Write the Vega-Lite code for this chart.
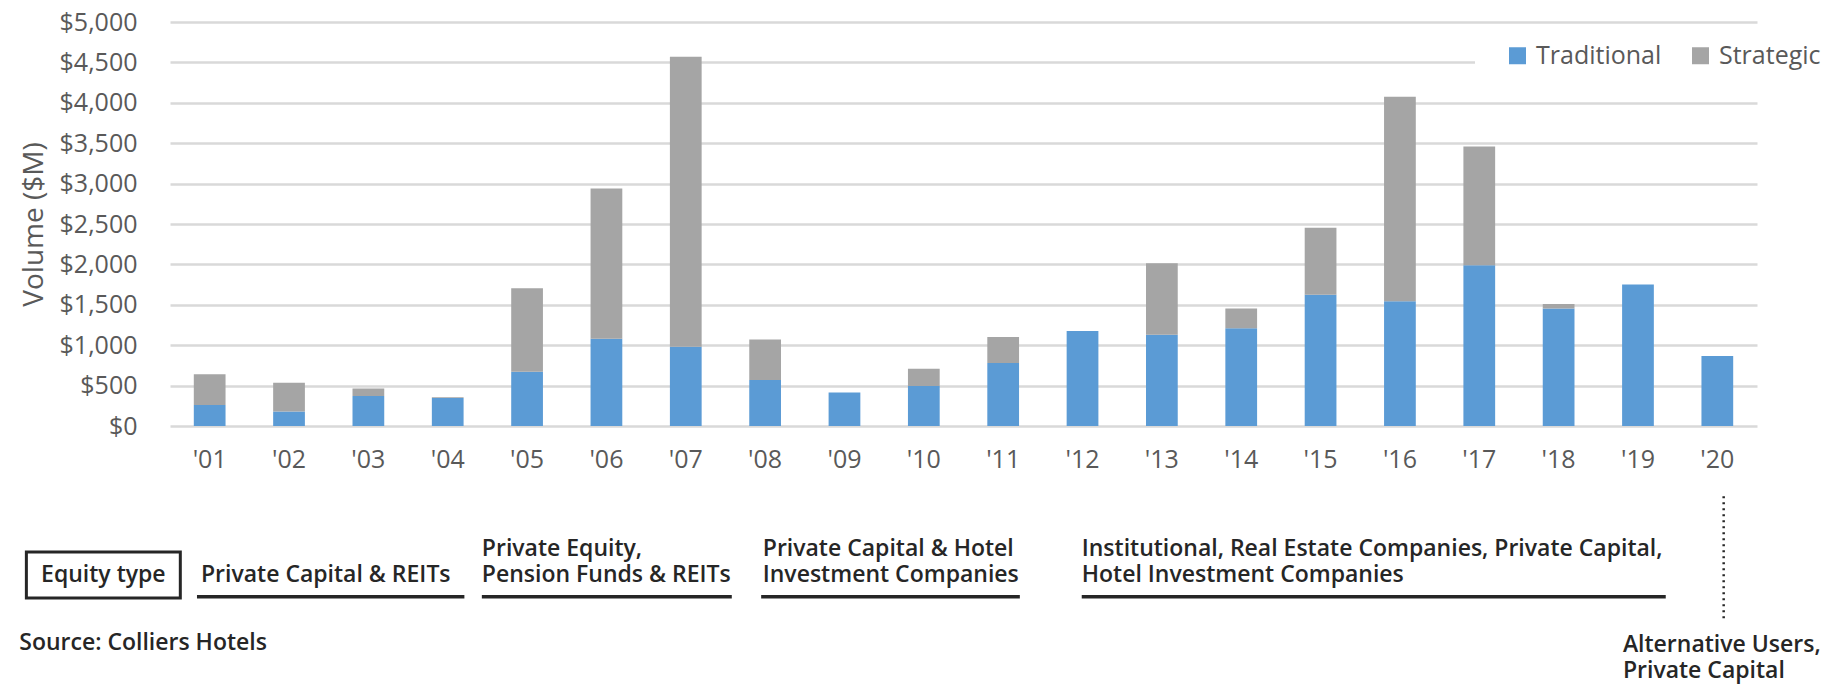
{
  "$schema": "https://vega.github.io/schema/vega-lite/v6.json",
  "width": 1587,
  "height": 404,
  "autosize": {"type": "none"},
  "padding": {"left": 170, "top": 22, "right": 75, "bottom": 262},
  "background": "white",
  "config": {
    "font": "Open Sans",
    "view": {"stroke": null}
  },
  "datasets": {
    "bars": [
      {"year": "'01", "type": "Traditional", "ord": 1, "value": 260},
      {"year": "'01", "type": "Strategic", "ord": 2, "value": 380},
      {"year": "'02", "type": "Traditional", "ord": 1, "value": 180},
      {"year": "'02", "type": "Strategic", "ord": 2, "value": 355},
      {"year": "'03", "type": "Traditional", "ord": 1, "value": 370},
      {"year": "'03", "type": "Strategic", "ord": 2, "value": 95},
      {"year": "'04", "type": "Traditional", "ord": 1, "value": 345},
      {"year": "'04", "type": "Strategic", "ord": 2, "value": 10},
      {"year": "'05", "type": "Traditional", "ord": 1, "value": 670},
      {"year": "'05", "type": "Strategic", "ord": 2, "value": 1035},
      {"year": "'06", "type": "Traditional", "ord": 1, "value": 1080},
      {"year": "'06", "type": "Strategic", "ord": 2, "value": 1860},
      {"year": "'07", "type": "Traditional", "ord": 1, "value": 980},
      {"year": "'07", "type": "Strategic", "ord": 2, "value": 3590},
      {"year": "'08", "type": "Traditional", "ord": 1, "value": 570},
      {"year": "'08", "type": "Strategic", "ord": 2, "value": 500},
      {"year": "'09", "type": "Traditional", "ord": 1, "value": 415},
      {"year": "'10", "type": "Traditional", "ord": 1, "value": 495},
      {"year": "'10", "type": "Strategic", "ord": 2, "value": 215},
      {"year": "'11", "type": "Traditional", "ord": 1, "value": 780},
      {"year": "'11", "type": "Strategic", "ord": 2, "value": 320},
      {"year": "'12", "type": "Traditional", "ord": 1, "value": 1175},
      {"year": "'13", "type": "Traditional", "ord": 1, "value": 1130},
      {"year": "'13", "type": "Strategic", "ord": 2, "value": 885},
      {"year": "'14", "type": "Traditional", "ord": 1, "value": 1210},
      {"year": "'14", "type": "Strategic", "ord": 2, "value": 245},
      {"year": "'15", "type": "Traditional", "ord": 1, "value": 1625},
      {"year": "'15", "type": "Strategic", "ord": 2, "value": 830},
      {"year": "'16", "type": "Traditional", "ord": 1, "value": 1545},
      {"year": "'16", "type": "Strategic", "ord": 2, "value": 2530},
      {"year": "'17", "type": "Traditional", "ord": 1, "value": 1990},
      {"year": "'17", "type": "Strategic", "ord": 2, "value": 1470},
      {"year": "'18", "type": "Traditional", "ord": 1, "value": 1455},
      {"year": "'18", "type": "Strategic", "ord": 2, "value": 55},
      {"year": "'19", "type": "Traditional", "ord": 1, "value": 1750},
      {"year": "'20", "type": "Traditional", "ord": 1, "value": 865}
    ],
    "labels": [
      {"t": "Private Capital & REITs", "u": 0.89, "v": -1844},
      {"t": "Source: Colliers Hotels", "u": -1.40, "v": -2682}
    ],
    "multilabels": [
      {"t": "Private Equity,\nPension Funds & REITs", "u": 4.43, "v": -1522},
      {"t": "Private Capital & Hotel\nInvestment Companies", "u": 7.97, "v": -1522},
      {"t": "Institutional, Real Estate Companies, Private Capital,\nHotel Investment Companies", "u": 11.99, "v": -1522},
      {"t": "Alternative Users,\nPrivate Capital", "u": 18.81, "v": -2710}
    ],
    "boxlabel": [{"t": "Equity type", "u": -0.34, "v": -1844}],
    "spans": [
      {"u": 0.84, "u2": 4.21, "v": -2113},
      {"u": 4.43, "u2": 7.58, "v": -2113},
      {"u": 7.95, "u2": 11.21, "v": -2113},
      {"u": 11.99, "u2": 19.35, "v": -2113}
    ],
    "marker": [{"u": 20.08, "v": -870, "v2": -2380}],
    "box": [{"u": -1.31, "u2": 0.63, "v": -1560, "v2": -2130}]
  },
  "layer": [
    {
      "data": {"name": "bars"},
      "mark": {"type": "bar"},
      "encoding": {
        "x": {
          "field": "year", "type": "nominal", "sort": null,
          "scale": {"paddingInner": 0.6, "paddingOuter": 0.3},
          "axis": {
            "title": null, "domain": false, "ticks": false, "grid": false,
            "labelAngle": 0, "labelFontSize": 25, "labelColor": "#595959",
            "labelPadding": 21
          }
        },
        "y": {
          "field": "value", "type": "quantitative", "stack": "zero",
          "scale": {"domain": [0, 5000], "nice": false},
          "axis": {
            "title": "Volume ($M)", "titleFontSize": 28, "titleColor": "#595959",
            "titleFontWeight": "normal", "titlePadding": 11,
            "values": [0, 500, 1000, 1500, 2000, 2500, 3000, 3500, 4000, 4500, 5000],
            "format": "$,d", "labelFontSize": 25, "labelColor": "#595959",
            "labelPadding": 33, "domain": false, "ticks": false,
            "grid": true, "gridColor": "#D9D9D9", "gridWidth": 2.5
          }
        },
        "color": {
          "field": "type", "type": "nominal",
          "scale": {"domain": ["Traditional", "Strategic"], "range": ["#5B9BD5", "#A5A5A5"]},
          "legend": {
            "orient": "none", "legendX": 1305, "legendY": 15, "direction": "horizontal",
            "title": " ", "titleOrient": "left", "titlePadding": 24, "titleFontSize": 10,
            "symbolType": "square", "symbolSize": 289, "symbolStrokeWidth": 0,
            "labelFontSize": 25, "labelColor": "#595959", "labelOffset": 6,
            "columnPadding": 26, "fillColor": "white", "padding": 6
          }
        },
        "order": {"field": "ord", "type": "quantitative"}
      }
    },
    {
      "data": {"name": "spans"},
      "mark": {"type": "rule", "color": "#262626", "strokeWidth": 3.5},
      "encoding": {
        "x": {"field": "u", "type": "quantitative", "scale": {"domain": [0.5, 20.5], "nice": false, "zero": false}, "axis": null},
        "x2": {"field": "u2"},
        "y": {"field": "v", "type": "quantitative", "scale": {"domain": [0, 5000], "nice": false}, "axis": null}
      }
    },
    {
      "data": {"name": "marker"},
      "mark": {"type": "rule", "color": "#262626", "strokeWidth": 2.5, "strokeDash": [2, 4]},
      "encoding": {
        "x": {"field": "u", "type": "quantitative", "scale": {"domain": [0.5, 20.5], "nice": false, "zero": false}, "axis": null},
        "y": {"field": "v", "type": "quantitative", "scale": {"domain": [0, 5000], "nice": false}, "axis": null},
        "y2": {"field": "v2"}
      }
    },
    {
      "data": {"name": "box"},
      "mark": {"type": "rect", "fill": "white", "stroke": "#262626", "strokeWidth": 3},
      "encoding": {
        "x": {"field": "u", "type": "quantitative", "scale": {"domain": [0.5, 20.5], "nice": false, "zero": false}, "axis": null},
        "x2": {"field": "u2"},
        "y": {"field": "v", "type": "quantitative", "scale": {"domain": [0, 5000], "nice": false}, "axis": null},
        "y2": {"field": "v2"}
      }
    },
    {
      "data": {"name": "boxlabel"},
      "mark": {"type": "text", "align": "center", "baseline": "middle", "fontSize": 23, "fontWeight": 600, "color": "#262626"},
      "encoding": {
        "x": {"field": "u", "type": "quantitative", "scale": {"domain": [0.5, 20.5], "nice": false, "zero": false}, "axis": null},
        "y": {"field": "v", "type": "quantitative", "scale": {"domain": [0, 5000], "nice": false}, "axis": null},
        "text": {"field": "t"}
      }
    },
    {
      "data": {"name": "labels"},
      "mark": {"type": "text", "align": "left", "baseline": "middle", "fontSize": 23, "fontWeight": 600, "color": "#262626"},
      "encoding": {
        "x": {"field": "u", "type": "quantitative", "scale": {"domain": [0.5, 20.5], "nice": false, "zero": false}, "axis": null},
        "y": {"field": "v", "type": "quantitative", "scale": {"domain": [0, 5000], "nice": false}, "axis": null},
        "text": {"field": "t"}
      }
    },
    {
      "data": {"name": "multilabels"},
      "mark": {"type": "text", "align": "left", "baseline": "middle", "fontSize": 23, "fontWeight": 600, "color": "#262626", "lineBreak": "\n", "lineHeight": 26},
      "encoding": {
        "x": {"field": "u", "type": "quantitative", "scale": {"domain": [0.5, 20.5], "nice": false, "zero": false}, "axis": null},
        "y": {"field": "v", "type": "quantitative", "scale": {"domain": [0, 5000], "nice": false}, "axis": null},
        "text": {"field": "t"}
      }
    }
  ],
  "resolve": {"scale": {"x": "independent", "y": "independent"}}
}
